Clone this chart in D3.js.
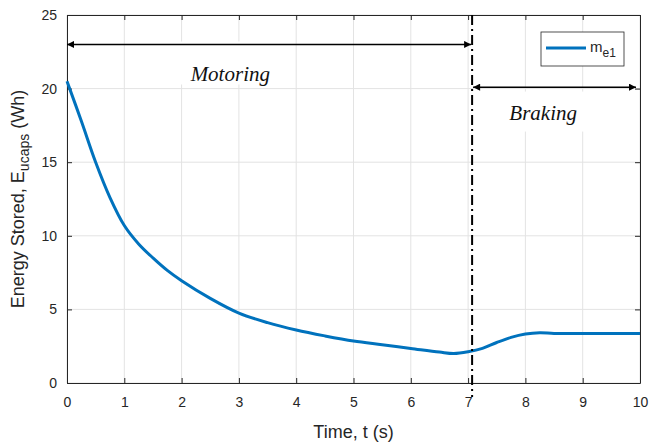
<!DOCTYPE html>
<html>
<head>
<meta charset="utf-8">
<script src="https://cdn.jsdelivr.net/npm/d3@7"></script>
<style>
  body { margin: 0; background: #fff; }
  text { font-family: "Liberation Sans", Arial, sans-serif; fill: #262626; }
</style>
</head>
<body>
<svg id="chart" width="651" height="444"></svg>
<script>
// curve
const timeS = [0, 0.25, 0.5, 0.75, 1, 1.25, 1.5, 1.75, 2, 2.5, 3, 3.5, 4, 4.5, 5, 5.5, 6, 6.5, 6.75, 7, 7.25, 7.5, 7.75, 8, 8.25, 8.5, 9, 10];
const energyWh = [20.5, 17.8, 15.0, 12.6, 10.7, 9.45, 8.5, 7.65, 6.95, 5.75, 4.75, 4.1, 3.6, 3.2, 2.85, 2.6, 2.35, 2.1, 2.0, 2.12, 2.35, 2.75, 3.1, 3.33, 3.42, 3.37, 3.36, 3.36];
const xTicks = [0, 1, 2, 3, 4, 5, 6, 7, 8, 9, 10];
const yTicks = [0, 5, 10, 15, 20, 25];
const switchTime = 7.07;
const motoringY = 23, brakingY = 20.1;

const width = 651, height = 444;
const margin = {top: 15, right: 11, bottom: 61, left: 67};
const blue = "#0072bd";

const svg = d3.select("#chart");

const x = d3.scaleLinear().domain([0, 10]).range([margin.left, width - margin.right]);
const y = d3.scaleLinear().domain([0, 25]).range([height - margin.bottom, margin.top]);

// arrowheads
const defs = svg.append("defs");
defs.append("marker")
    .attr("id", "head")
    .attr("viewBox", "0 0 10 10")
    .attr("refX", 10).attr("refY", 5)
    .attr("markerWidth", 10).attr("markerHeight", 7)
    .attr("markerUnits", "userSpaceOnUse")
    .attr("orient", "auto-start-reverse")
    .append("path")
    .attr("d", "M0,0L10,5L0,10z")
    .attr("fill", "#000");

// grid
svg.append("g")
    .selectAll("line")
    .data(xTicks)
    .enter().append("line")
    .attr("x1", d => x(d)).attr("x2", d => x(d))
    .attr("y1", y(0)).attr("y2", y(25))
    .attr("stroke", "#e3e3e3");

svg.append("g")
    .selectAll("line")
    .data(yTicks)
    .enter().append("line")
    .attr("x1", x(0)).attr("x2", x(10))
    .attr("y1", d => y(d)).attr("y2", d => y(d))
    .attr("stroke", "#e3e3e3");

// white boxes behind the labels
svg.append("rect")
    .attr("x", x(1.92)).attr("y", y(23.2))
    .attr("width", 108).attr("height", 43)
    .attr("fill", "#fff");
svg.append("rect")
    .attr("x", x(7.1)).attr("y", y(19.8))
    .attr("width", 162).attr("height", 40)
    .attr("fill", "#fff");

// axes
const xAxis = d3.axisBottom(x).tickValues(xTicks).tickSizeInner(-5).tickSizeOuter(0).tickPadding(14);
const yAxis = d3.axisLeft(y).tickValues(yTicks).tickSizeInner(-5).tickSizeOuter(0).tickPadding(10);

const gx = svg.append("g").attr("transform", `translate(0,${y(0)})`).call(xAxis);
const gy = svg.append("g").attr("transform", `translate(${x(0)},0)`).call(yAxis);
const gxTop = svg.append("g").attr("transform", `translate(0,${y(25)})`)
    .call(d3.axisTop(x).tickValues(xTicks).tickSizeInner(-5).tickSizeOuter(0).tickFormat(""));
const gyRight = svg.append("g").attr("transform", `translate(${x(10)},0)`)
    .call(d3.axisRight(y).tickValues(yTicks).tickSizeInner(-5).tickSizeOuter(0).tickFormat(""));

[gx, gy, gxTop, gyRight].forEach(g => {
    g.select(".domain").attr("stroke", "#262626").attr("stroke-width", 1);
    g.selectAll(".tick line").attr("stroke", "#262626");
    g.selectAll(".tick text").style("font-size", "14px").attr("fill", "#262626")
        .style("font-family", "'Liberation Sans', Arial, sans-serif");
});

// curve
const line = d3.line()
    .x((d, i) => x(timeS[i]))
    .y(d => y(d))
    .curve(d3.curveCatmullRom.alpha(0.5));

svg.append("path")
    .datum(energyWh)
    .attr("d", line)
    .attr("fill", "none")
    .attr("stroke", blue)
    .attr("stroke-width", 3);

// dash-dot separator
svg.append("line")
    .attr("x1", x(switchTime)).attr("x2", x(switchTime))
    .attr("y1", y(25)).attr("y2", y(0) + 14)
    .attr("stroke", "#000")
    .attr("stroke-width", 2)
    .attr("stroke-dasharray", "10,4,2,4");

// arrows
svg.append("line")
    .attr("x1", x(0)).attr("x2", x(switchTime) - 1)
    .attr("y1", y(motoringY)).attr("y2", y(motoringY))
    .attr("stroke", "#000").attr("stroke-width", 1.5)
    .attr("marker-start", "url(#head)").attr("marker-end", "url(#head)");

svg.append("line")
    .attr("x1", x(switchTime) + 1).attr("x2", x(9.93))
    .attr("y1", y(brakingY)).attr("y2", y(brakingY))
    .attr("stroke", "#000").attr("stroke-width", 1.5)
    .attr("marker-start", "url(#head)").attr("marker-end", "url(#head)");

svg.append("text")
    .attr("x", x(2.85)).attr("y", y(20.5))
    .attr("text-anchor", "middle")
    .style("font-family", "'Liberation Serif', 'Times New Roman', serif")
    .style("font-style", "italic")
    .style("font-size", "21px")
    .style("fill", "#111")
    .text("Motoring");

svg.append("text")
    .attr("x", x(8.31)).attr("y", y(17.85))
    .attr("text-anchor", "middle")
    .style("font-family", "'Liberation Serif', 'Times New Roman', serif")
    .style("font-style", "italic")
    .style("font-size", "21px")
    .style("fill", "#111")
    .text("Braking");

// axis labels
svg.append("text")
    .attr("x", (x(0) + x(10)) / 2).attr("y", 438)
    .attr("text-anchor", "middle")
    .style("font-size", "18px")
    .text("Time, t (s)");

const yl = svg.append("text")
    .attr("transform", `translate(24,${(y(0) + y(25)) / 2}) rotate(-90)`)
    .attr("text-anchor", "middle")
    .style("font-size", "18px");
yl.append("tspan").text("Energy Stored, E");
yl.append("tspan").attr("dy", 5).style("font-size", "14px").text("ucaps");
yl.append("tspan").attr("dy", -5).text(" (Wh)");

// legend
const legend = svg.append("g").attr("transform", "translate(541,32)");
legend.append("rect")
    .attr("width", 83).attr("height", 34)
    .attr("fill", "#fff").attr("stroke", "#262626").attr("stroke-width", 0.8);
legend.append("line")
    .attr("x1", 5).attr("x2", 45).attr("y1", 16).attr("y2", 16)
    .attr("stroke", blue).attr("stroke-width", 3);
const lt = legend.append("text").attr("x", 49).attr("y", 20).style("font-size", "15px");
lt.append("tspan").text("m");
lt.append("tspan").attr("dy", 5).style("font-size", "12px").text("e1");
</script>
</body>
</html>
